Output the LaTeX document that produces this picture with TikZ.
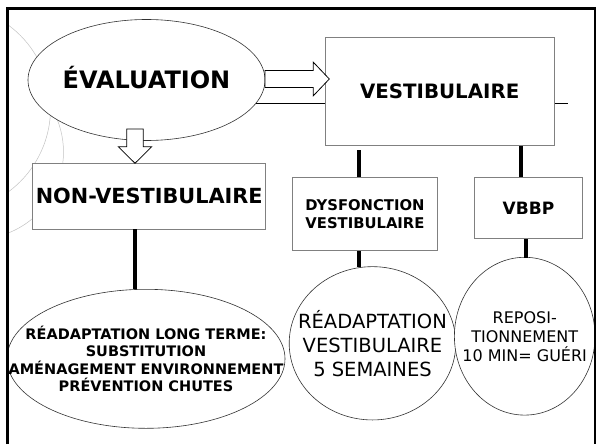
\documentclass[tikz,border=0pt]{standalone}
\usepackage{fontspec}
\setmainfont{DejaVu Sans}
\usetikzlibrary{shapes.geometric}
\definecolor{boxline}{RGB}{128,128,128}
\definecolor{ellline}{RGB}{50,50,50}
\definecolor{deco}{RGB}{195,195,195}
\begin{document}
\begin{tikzpicture}[x=1pt,y=-1pt,
  box/.style={draw=boxline,line width=0.9pt,fill=white,rectangle,inner sep=0pt},
  ell/.style={draw=ellline,line width=0.6pt,fill=white,ellipse,inner sep=0pt},
  txt/.style={inner sep=0pt,align=center},
  conn/.style={line width=4pt},
  thinline/.style={line width=0.8pt},
  blockarrow/.style={draw=black,line width=0.8pt,fill=white,line join=miter},
  decoarc/.style={draw=deco,line width=0.5pt}]
\useasboundingbox (0,0) rectangle (596,444);
\fill[white] (0,0) rectangle (596,444);

% decorative arcs
\begin{scope}
\clip (9,10) rectangle (594,444);
\draw[decoarc] (-53,108.5) ++(-62:103.5) arc[start angle=-62,end angle=62,radius=103.5];
\draw[decoarc] (-23.5,152) ++(-30:87) arc[start angle=-30,end angle=75,radius=87];
\end{scope}

% shapes
\node[ell,minimum width=237pt,minimum height=121pt] (eval) at (146.5,80) {};
\node[txt,font=\fontsize{24}{28}\selectfont\bfseries,text height=17.2pt,text depth=0pt]
  (evalt) at (eval.center) {ÉVALUATION};

\node[box,minimum width=229.3pt,minimum height=107.6pt,
  font=\fontsize{19.8}{24}\selectfont\bfseries,text height=14.4pt,text depth=0pt] (vest) at (439.7,91.5) {VESTIBULAIRE};

\node[box,minimum width=233pt,minimum height=66pt,
  font=\fontsize{20.8}{24}\selectfont\bfseries,text height=15pt,text depth=0pt] (nonvest) at (149.2,196) {NON-VESTIBULAIRE};

\node[box,minimum width=144.6pt,minimum height=73.4pt,align=center,
  font=\fontsize{14.8}{18.3}\selectfont\bfseries] (dys) at (365,214) {DYSFONCTION\\VESTIBULAIRE};

\node[box,minimum width=108.4pt,minimum height=61pt,
  font=\fontsize{17}{20}\selectfont\bfseries,text height=12.4pt,text depth=0pt] (vbbp) at (528.5,208.3) {VBBP};

\node[ell,minimum width=278pt,minimum height=139pt] (ltr) at (146,358.8) {};
\node[txt,font=\fontsize{14.5}{17.4}\selectfont\bfseries] (ltrt) at (ltr.center)
  {RÉADAPTATION LONG TERME:\\SUBSTITUTION\\AMÉNAGEMENT ENVIRONNEMENT\\PRÉVENTION CHUTES};

\node[ell,minimum width=166.6pt,minimum height=153.3pt] (rv) at (372.5,343.3) {};
\node[ell,minimum width=140.6pt,minimum height=157.8pt] (rep) at (524.7,336.2) {};
\node[txt,font=\fontsize{19.5}{24.2}\selectfont] (rvt) at (rv.center)
  {RÉADAPTATION\\VESTIBULAIRE\\5 SEMAINES};
\node[txt,font=\fontsize{16}{19}\selectfont] (rept) at (rep.center)
  {REPOSI-\\TIONNEMENT\\10 MIN= GUÉRI};

% thin line through VESTIBULAIRE
\coordinate (lineend) at (568,105);
\draw[thinline] (eval.-12.5) -- (eval.-12.5 -| vest.west);
\draw[thinline] (vest.east |- eval.-12.5) -- (lineend |- eval.-12.5);

% block arrows
\draw[blockarrow] (265,70.5) -- (313.3,70.5) -- (313.3,62.2) -- (329.3,79) -- (313.3,95.8)
  -- (313.3,87.5) -- (265,87.5) -- cycle;
\draw[blockarrow] (126.7,129) -- (143.3,129) -- (143.3,146.7) -- (151.7,146.7) -- (135,163.3)
  -- (118.3,146.7) -- (126.7,146.7) -- cycle;

% thick connectors
\coordinate (k1) at (358.5,150);
\coordinate (k2) at (520.7,0);
\coordinate (k3) at (358.7,0);
\coordinate (k4) at (526,0);
\coordinate (k5) at (135,0);
\draw[conn] (k1) -- (k1 |- dys.north);
\draw[conn] (vest.south -| k2) -- (vbbp.north -| k2);
\draw[conn] (dys.south -| k3) -- ([yshift=-0.5pt]rv.north -| k3);
\draw[conn] (vbbp.south -| k4) -- ([yshift=-1pt]rep.north -| k4);
\draw[conn] (nonvest.south -| k5) -- (ltr.north -| k5);

% frame
\draw[line width=3pt] (7.5,444) -- (7.5,8.5) -- (596,8.5);
\draw[line width=2pt] (595,8.5) -- (595,444);
\end{tikzpicture}
\end{document}
